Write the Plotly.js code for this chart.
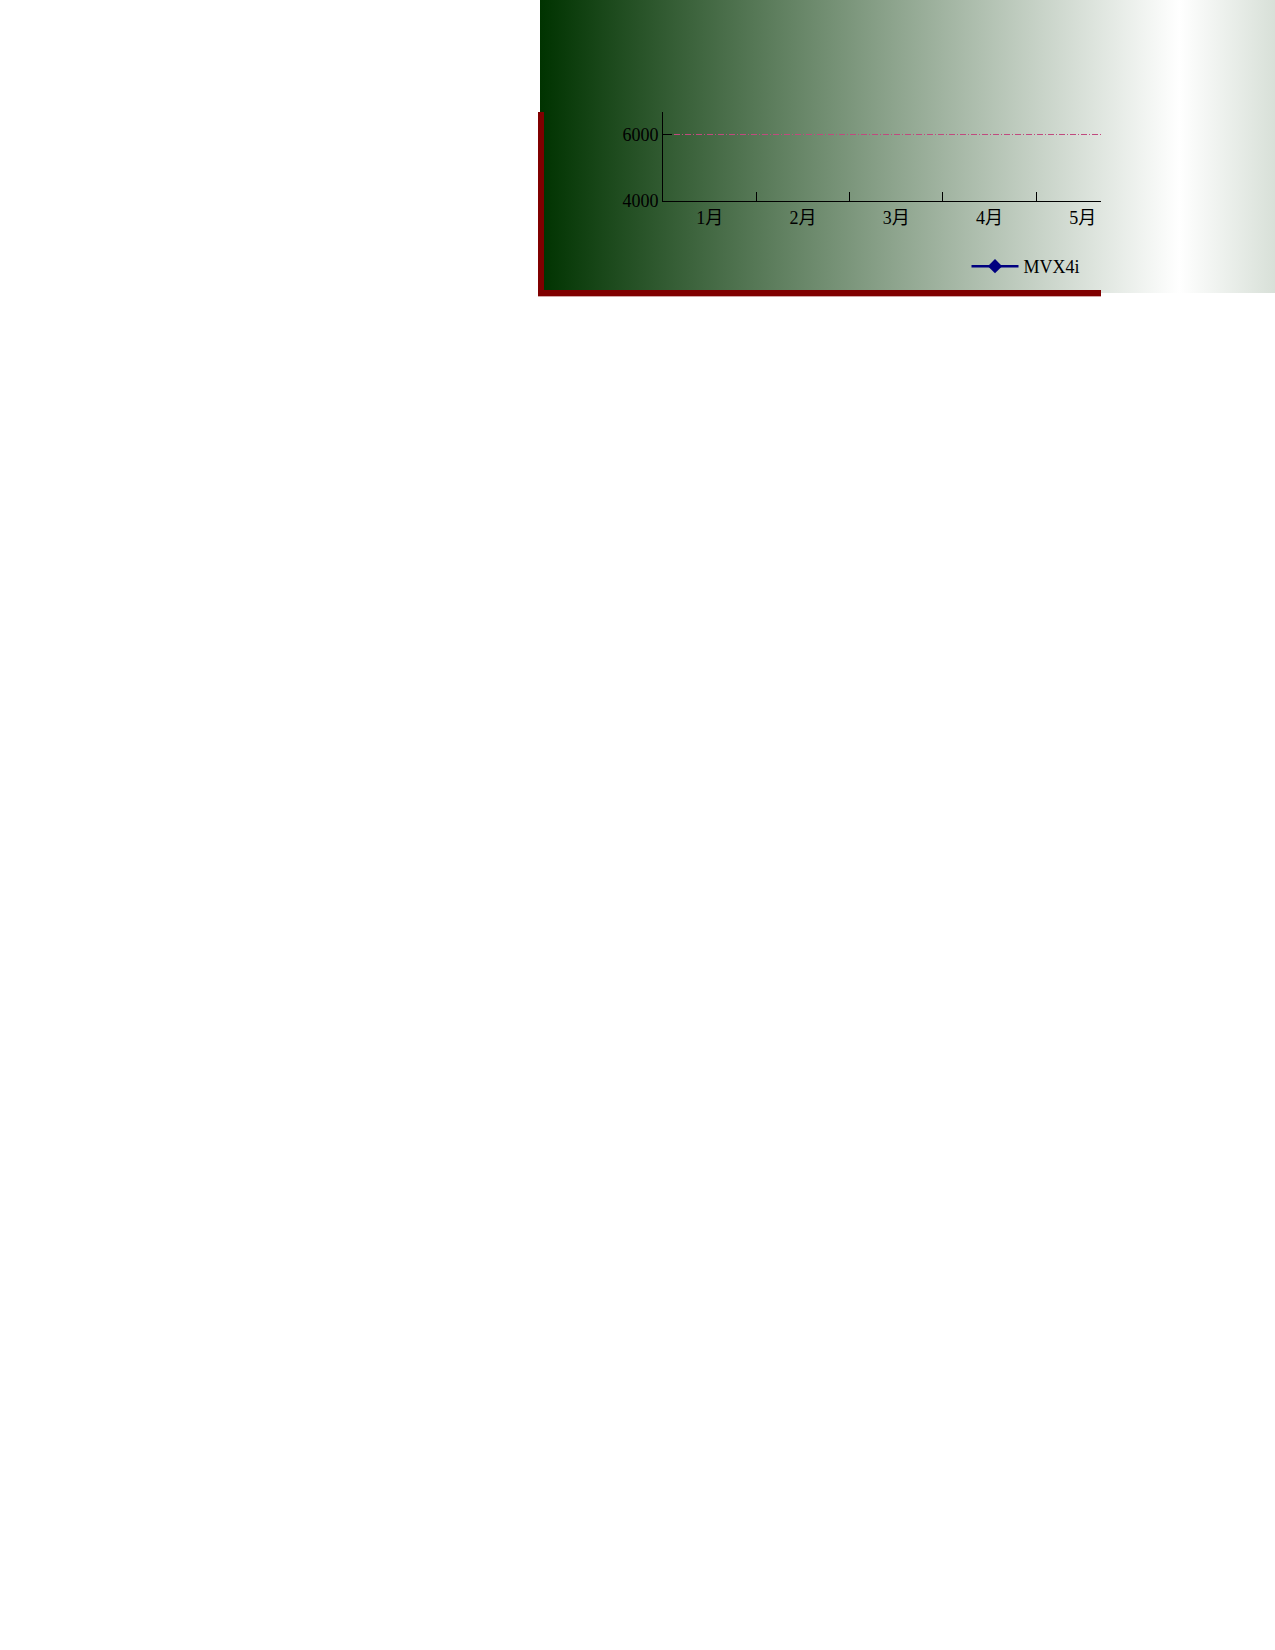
<!DOCTYPE html>
<html>
<head>
<meta charset="utf-8">
<script src="https://cdn.plot.ly/plotly-3.0.1.min.js"></script>
<style>
  body { margin: 0; background: #ffffff; }
  #chart { width: 1275px; height: 1650px; }
</style>
</head>
<body>
<div id="chart"></div>
<script>
// chart values
const months = ['1月', '2月', '3月', '4月', '5月'];
const seriesName = 'MVX4i';
const mvx4i = [7250, 7480, 7120, 7600, 7390];   // line sits above the visible part of the axis
const yTicks = [4000, 6000];

const W = 1275, H = 1650;
const px = x => x / W;
const py = y => 1 - y / H;

// background gradient, dark green -> white -> back toward green
const bgSvg =
    '<svg xmlns="http://www.w3.org/2000/svg" width="735" height="293" preserveAspectRatio="none">' +
    '<defs><linearGradient id="g" x1="0" y1="0" x2="1" y2="0">' +
    '<stop offset="0" stop-color="#003300"/>' +
    '<stop offset="0.87" stop-color="#ffffff"/>' +
    '<stop offset="1" stop-color="#d8e0d8"/>' +
    '</linearGradient></defs>' +
    '<rect width="735" height="293" fill="url(#g)"/></svg>';

const font = { family: '"Liberation Serif", "Noto Sans CJK SC", serif', size: 18, color: '#000000' };

const graphData = [{
    x: months,
    y: mvx4i,
    name: seriesName,
    type: 'scatter',
    mode: 'lines+markers',
    line: { color: '#000080', width: 2.5 },
    marker: { symbol: 'diamond', size: 11, color: '#000080' },
    cliponaxis: true,
}];

const layout = {
    width: W,
    height: H,
    margin: { l: 0, r: 0, t: 0, b: 0 },
    paper_bgcolor: '#ffffff',
    plot_bgcolor: 'rgba(0,0,0,0)',
    font: font,
    showlegend: true,
    xaxis: {
        type: 'category',
        domain: [px(663), px(1101)],
        range: [-0.5, -0.5 + 438 / 93.3],
        tickson: 'boundaries',
        ticks: 'inside',
        ticklen: 9,
        tickcolor: '#000000',
        showline: true,
        linecolor: '#000000',
        linewidth: 1,
        showgrid: false,
        zeroline: false,
        tickfont: font,
        fixedrange: true,
    },
    yaxis: {
        domain: [py(201), py(112)],
        range: [4000, 6669],
        tickvals: yTicks,
        ticktext: yTicks.map(String),
        ticks: 'inside',
        ticklen: 9,
        tickcolor: '#000000',
        showline: true,
        linecolor: '#000000',
        linewidth: 1,
        showgrid: true,
        gridcolor: '#c04a7e',
        gridwidth: 1,
        griddash: '6px,2px,1px,2px',
        zeroline: false,
        tickfont: font,
        fixedrange: true,
    },
    legend: {
        x: px(966.5),
        y: py(266.5),
        xanchor: 'left',
        yanchor: 'middle',
        bgcolor: 'rgba(0,0,0,0)',
        borderwidth: 0,
        itemwidth: 47,
        font: font,
    },
    images: [{
        source: 'data:image/svg+xml;charset=utf-8,' + encodeURIComponent(bgSvg),
        xref: 'paper', yref: 'paper',
        x: px(540), y: 1,
        sizex: px(1275) - px(540),
        sizey: 293 / H,
        xanchor: 'left', yanchor: 'top',
        sizing: 'stretch',
        layer: 'below',
    }],
    shapes: [
        // dark red frame, left and bottom edges
        { type: 'rect', xref: 'paper', yref: 'paper', x0: px(538), x1: px(544), y0: py(296), y1: py(112),
          fillcolor: '#800000', line: { width: 0 } },
        { type: 'rect', xref: 'paper', yref: 'paper', x0: px(538), x1: px(1101), y0: py(296), y1: py(290),
          fillcolor: '#800000', line: { width: 0 } },
        { type: 'rect', xref: 'paper', yref: 'paper', x0: px(538), x1: px(1101), y0: py(297), y1: py(296),
          fillcolor: 'rgba(128,0,0,0.35)', line: { width: 0 } },
    ],
};

Plotly.newPlot('chart', graphData, layout, { displayModeBar: false, staticPlot: true });
</script>
</body>
</html>
